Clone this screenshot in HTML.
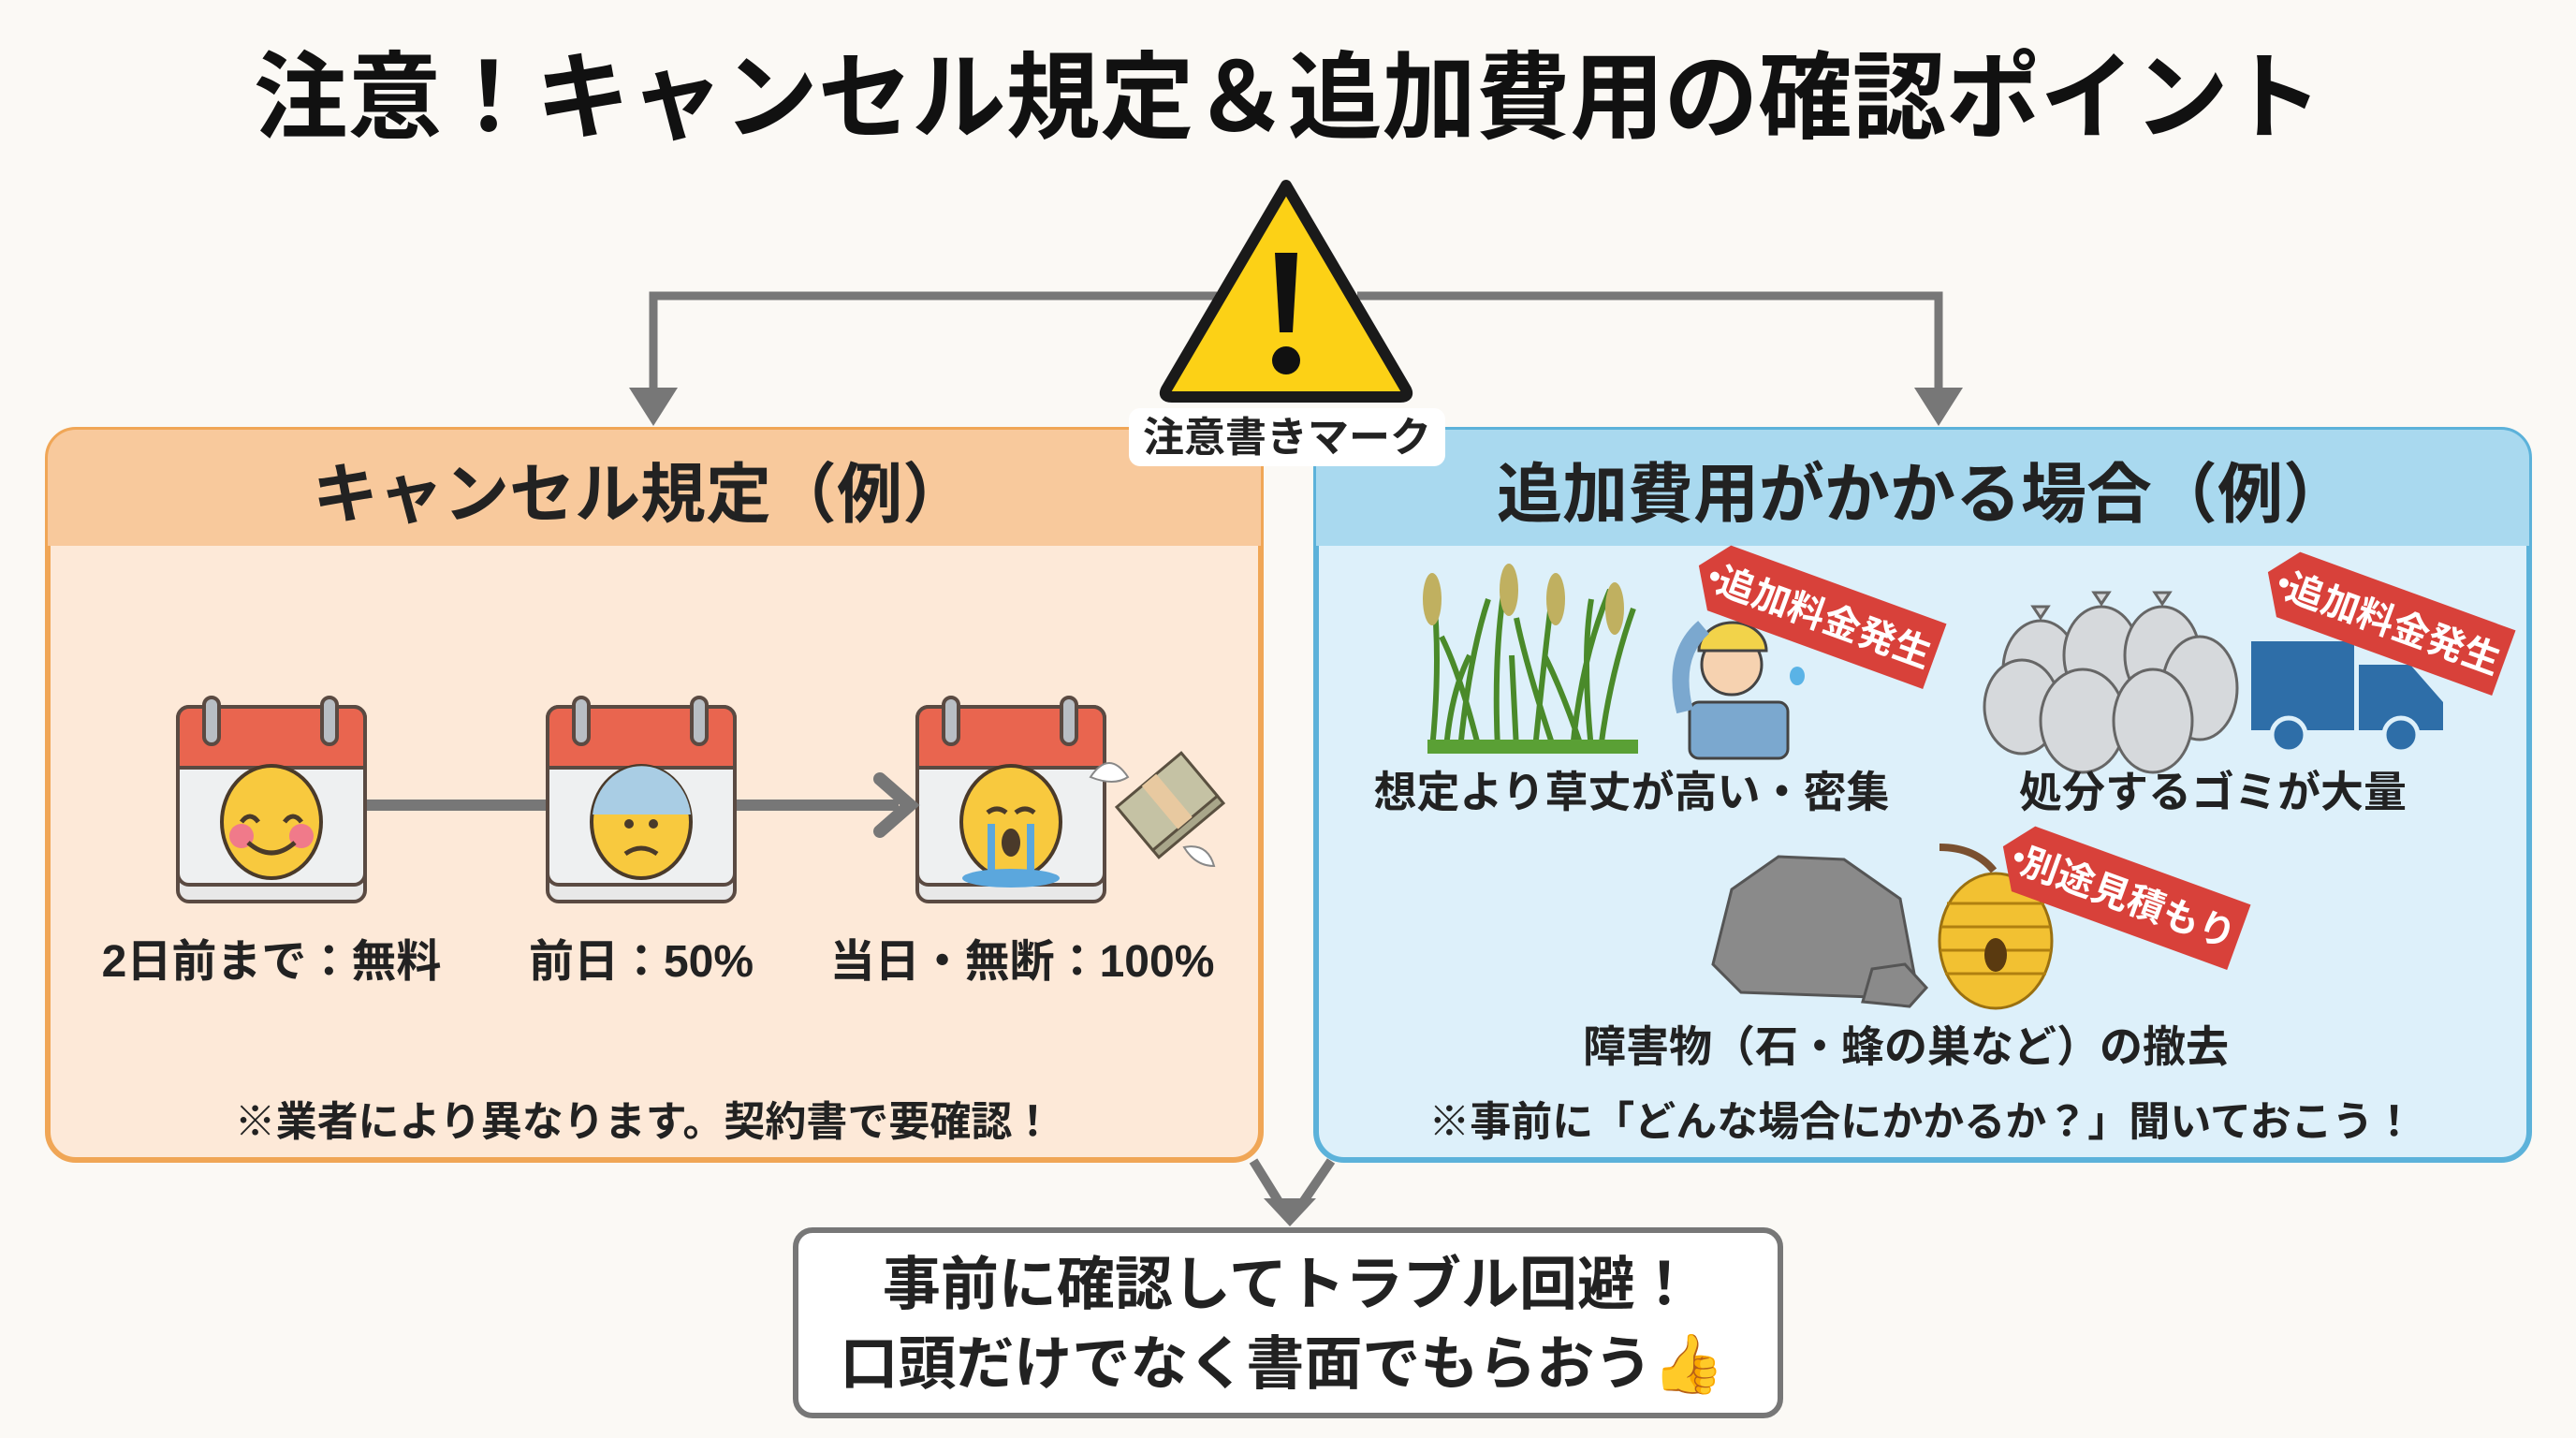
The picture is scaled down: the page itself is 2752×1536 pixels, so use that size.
<!DOCTYPE html>
<html><head><meta charset="utf-8"><style>
html,body{margin:0;padding:0;background:#fbf9f5;}
svg{display:block;}
text{font-family:"Liberation Sans","Noto Sans CJK JP",sans-serif;font-weight:700;}
</style></head><body>
<svg width="2752" height="1536" viewBox="0 0 2752 1536" xmlns="http://www.w3.org/2000/svg">
<rect width="2752" height="1536" fill="#fbf9f5"/>
<text x="1376" y="140" font-size="102" text-anchor="middle" fill="#111" textLength="2210" lengthAdjust="spacingAndGlyphs">注意！キャンセル規定＆追加費用の確認ポイント</text>

<!-- top connectors -->
<path d="M1300 316 H698 V420 M1450 316 H2071 V420" fill="none" stroke="#777" stroke-width="9"/>
<polygon points="672,414 724,414 698,455" fill="#777"/>
<polygon points="2045,414 2097,414 2071,455" fill="#777"/>

<!-- left panel -->
<rect x="51" y="459" width="1296" height="780" rx="30" fill="#fde9d8" stroke="#f0a656" stroke-width="6"/>
<path d="M51 583 V489 a30 30 0 0 1 30 -30 H1317 a30 30 0 0 1 30 30 V583 Z" fill="#f8c99c"/>
<text x="684" y="552" font-size="70" text-anchor="middle" fill="#222">キャンセル規定（例）</text>

<!-- right panel -->
<rect x="1406" y="459" width="1296" height="780" rx="30" fill="#ddf0fa" stroke="#5cb2da" stroke-width="6"/>
<path d="M1406 583 V489 a30 30 0 0 1 30 -30 H2672 a30 30 0 0 1 30 30 V583 Z" fill="#a9d9ef"/>
<text x="2054" y="552" font-size="70" text-anchor="middle" fill="#222">追加費用がかかる場合（例）</text>

<!-- warning sign -->
<path d="M1374 198 L1502 416 Q1506 424 1496 424 H1252 Q1242 424 1246 416 Z" fill="#fcd116" stroke="#1a1a1a" stroke-width="12" stroke-linejoin="round"/>
<path d="M1362 270 H1386 L1381 355 H1367 Z" fill="#111"/>
<circle cx="1374" cy="385" r="15" fill="#111"/>
<rect x="1206" y="436" width="338" height="62" rx="12" fill="#fff"/>
<text x="1375" y="482" font-size="44" text-anchor="middle" fill="#222">注意書きマーク</text>

<!-- calendars -->
<g stroke="#5a4a42" stroke-width="4">
<rect x="190" y="765" width="200" height="198" rx="12" fill="#e8e8e8"/>
<rect x="190" y="755" width="200" height="190" rx="12" fill="#eef0f1"/>
<path d="M190 820 V767 a12 12 0 0 1 12 -12 H378 a12 12 0 0 1 12 12 V820 Z" fill="#e9654f"/>
<rect x="218" y="745" width="16" height="50" rx="8" fill="#b8bec4"/>
<rect x="344" y="745" width="16" height="50" rx="8" fill="#b8bec4"/>

<rect x="585" y="765" width="200" height="198" rx="12" fill="#e8e8e8"/>
<rect x="585" y="755" width="200" height="190" rx="12" fill="#eef0f1"/>
<path d="M585 820 V767 a12 12 0 0 1 12 -12 H773 a12 12 0 0 1 12 12 V820 Z" fill="#e9654f"/>
<rect x="613" y="745" width="16" height="50" rx="8" fill="#b8bec4"/>
<rect x="739" y="745" width="16" height="50" rx="8" fill="#b8bec4"/>

<rect x="980" y="765" width="200" height="198" rx="12" fill="#e8e8e8"/>
<rect x="980" y="755" width="200" height="190" rx="12" fill="#eef0f1"/>
<path d="M980 820 V767 a12 12 0 0 1 12 -12 H1168 a12 12 0 0 1 12 12 V820 Z" fill="#e9654f"/>
<rect x="1008" y="745" width="16" height="50" rx="8" fill="#b8bec4"/>
<rect x="1134" y="745" width="16" height="50" rx="8" fill="#b8bec4"/>
</g>
<line x1="392" y1="860" x2="583" y2="860" stroke="#777" stroke-width="12"/>
<line x1="787" y1="860" x2="960" y2="860" stroke="#777" stroke-width="12"/>
<path d="M940 832 L972 860 L940 888" fill="none" stroke="#777" stroke-width="14" stroke-linecap="round"/>
<g stroke="#4a3a2a" stroke-width="4">
<ellipse cx="290" cy="878" rx="53" ry="60" fill="#f8c93e"/>
<ellipse cx="685" cy="878" rx="53" ry="60" fill="#f8c93e"/>
<path d="M633 870 a53 60 0 0 1 105 0 Z" fill="#a9cde4" stroke="none"/>
<ellipse cx="1080" cy="878" rx="53" ry="60" fill="#f8c93e"/>
</g>
<circle cx="258" cy="893" r="13" fill="#f07a8a"/><circle cx="322" cy="893" r="13" fill="#f07a8a"/>
<path d="M258 878 q9 -12 18 0 M304 878 q9 -12 18 0 M265 900 q25 22 50 0" fill="none" stroke="#4a3a2a" stroke-width="5"/>
<circle cx="672" cy="880" r="5" fill="#4a3a2a"/><circle cx="698" cy="880" r="5" fill="#4a3a2a"/>
<path d="M668 912 q17 -12 34 0" fill="none" stroke="#4a3a2a" stroke-width="5"/>
<path d="M1055 868 q10 -8 20 0 M1085 868 q10 -8 20 0" fill="none" stroke="#4a3a2a" stroke-width="5"/>
<rect x="1055" y="880" width="8" height="55" fill="#5ba7dd"/><rect x="1097" y="880" width="8" height="55" fill="#5ba7dd"/>
<ellipse cx="1080" cy="938" rx="52" ry="10" fill="#5ba7dd"/>
<ellipse cx="1080" cy="900" rx="10" ry="15" fill="#4a3a2a"/>
<g transform="translate(1250 860) rotate(-40)">
<rect x="-45" y="-25" width="90" height="60" fill="#a9a68a" stroke="#5a5040" stroke-width="3"/>
<rect x="-45" y="-35" width="90" height="60" fill="#c5c2a4" stroke="#5a5040" stroke-width="3"/>
<rect x="-10" y="-35" width="20" height="60" fill="#e8c9a0"/>
</g>
<path d="M1165 830 q20 -30 40 0 q-15 10 -40 0Z M1265 905 q25 -5 32 20 q-20 0 -32 -20Z" fill="#fff" stroke="#888" stroke-width="2"/>
<text x="290" y="1043" font-size="48" text-anchor="middle" fill="#222">2日前まで：無料</text>
<text x="685" y="1043" font-size="48" text-anchor="middle" fill="#222">前日：50%</text>
<text x="1092" y="1043" font-size="48" text-anchor="middle" fill="#222">当日・無断：100%</text>
<text x="688" y="1213" font-size="44" text-anchor="middle" fill="#222">※業者により異なります。契約書で要確認！</text>

<!-- grass -->
<g stroke="#4a8a2a" stroke-width="6" fill="none">
<path d="M1530 800 Q1540 700 1530 620 M1560 800 Q1570 700 1590 640 M1600 800 Q1595 690 1610 610 M1640 800 Q1650 700 1660 620 M1680 800 Q1690 700 1720 630 M1710 800 Q1720 720 1745 650 M1580 800 Q1560 720 1540 680 M1660 800 Q1630 710 1620 660 M1700 800 Q1690 700 1700 640 M1620 800 L1615 700 M1545 800 Q1550 740 1570 700 M1690 800 Q1670 740 1650 700"/>
</g>
<rect x="1525" y="790" width="225" height="15" fill="#5aa035"/>
<g fill="#c0b060"><ellipse cx="1530" cy="640" rx="10" ry="28"/><ellipse cx="1612" cy="630" rx="10" ry="28"/><ellipse cx="1662" cy="640" rx="10" ry="28"/><ellipse cx="1725" cy="650" rx="10" ry="28"/></g>
<!-- worker -->
<rect x="1805" y="750" width="105" height="60" rx="10" fill="#7ba8cf" stroke="#444" stroke-width="3"/>
<circle cx="1850" cy="710" r="32" fill="#f6d2b0" stroke="#444" stroke-width="3"/>
<path d="M1815 695 a36 30 0 0 1 72 0 Z" fill="#f2d34a" stroke="#444" stroke-width="3"/>
<path d="M1800 760 Q1785 700 1820 670" stroke="#7ba8cf" stroke-width="18" fill="none"/>
<ellipse cx="1920" cy="722" rx="8" ry="10" fill="#5ab3e6"/>
<g transform="translate(1940 655) rotate(20)">
<path d="M-135 -5 L-110 -37 H135 V37 H-110 Z" fill="#d8413a"/>
<circle cx="-115" cy="0" r="5" fill="#fff"/>
<text x="10" y="15" font-size="40" text-anchor="middle" fill="#fff">追加料金発生</text>
</g>
<!-- bags -->
<g fill="#d6d9dc" stroke="#666" stroke-width="3">
<path d="M2180 660 l-8 -12 h16 z"/><path d="M2245 645 l-8 -12 h16 z"/><path d="M2310 645 l-8 -12 h16 z"/>
<ellipse cx="2180" cy="715" rx="40" ry="52"/><ellipse cx="2245" cy="700" rx="40" ry="52"/><ellipse cx="2310" cy="700" rx="40" ry="52"/><ellipse cx="2350" cy="735" rx="40" ry="55"/>
<ellipse cx="2160" cy="755" rx="40" ry="50"/><ellipse cx="2225" cy="770" rx="45" ry="55"/><ellipse cx="2300" cy="770" rx="42" ry="55"/>
</g>
<rect x="2405" y="685" width="110" height="95" fill="#2e6ea8"/>
<path d="M2520 710 H2575 L2610 750 V780 H2520 Z" fill="#2e6ea8"/>
<circle cx="2445" cy="785" r="18" fill="#2e6ea8" stroke="#ddf0fa" stroke-width="5"/>
<circle cx="2565" cy="785" r="18" fill="#2e6ea8" stroke="#ddf0fa" stroke-width="5"/>
<g transform="translate(2548 662) rotate(20)">
<path d="M-135 -5 L-110 -37 H135 V37 H-110 Z" fill="#d8413a"/>
<circle cx="-115" cy="0" r="5" fill="#fff"/>
<text x="10" y="15" font-size="40" text-anchor="middle" fill="#fff">追加料金発生</text>
</g>
<text x="1743" y="862" font-size="46" text-anchor="middle" fill="#222">想定より草丈が高い・密集</text>
<text x="2364" y="862" font-size="46" text-anchor="middle" fill="#222">処分するゴミが大量</text>
<!-- rock -->
<path d="M1830 1030 L1850 950 L1900 915 L1970 918 L2030 960 L2045 1040 L2000 1065 L1860 1060 Z" fill="#8a8a8a" stroke="#555" stroke-width="3"/>
<path d="M1990 1070 L2000 1035 L2035 1030 L2058 1055 L2040 1075 Z" fill="#8a8a8a" stroke="#555" stroke-width="3"/>
<!-- hive -->
<path d="M2072 905 Q2110 905 2130 930" stroke="#7a5030" stroke-width="8" fill="none"/>
<ellipse cx="2132" cy="1005" rx="60" ry="72" fill="#f2c132" stroke="#9a7010" stroke-width="3"/>
<g stroke="#b08010" stroke-width="3" fill="none"><path d="M2080 965 h104 M2074 990 h116 M2073 1015 h118 M2078 1040 h108"/></g>
<ellipse cx="2132" cy="1020" rx="12" ry="18" fill="#5a3a10"/>
<g transform="translate(2265 955) rotate(20)">
<path d="M-135 -5 L-110 -37 H135 V37 H-110 Z" fill="#d8413a"/>
<circle cx="-115" cy="0" r="5" fill="#fff"/>
<text x="10" y="15" font-size="40" text-anchor="middle" fill="#fff">別途見積もり</text>
</g>
<text x="2036" y="1134" font-size="46" text-anchor="middle" fill="#222">障害物（石・蜂の巣など）の撤去</text>
<text x="2053" y="1213" font-size="44" text-anchor="middle" fill="#222">※事前に「どんな場合にかかるか？」聞いておこう！</text>

<path d="M1339 1240 L1370 1290 M1422 1240 L1388 1290" stroke="#777" stroke-width="10" fill="none"/>
<polygon points="1350,1280 1406,1280 1378,1310" fill="#777"/>

<rect x="850" y="1314" width="1052" height="198" rx="18" fill="#fff" stroke="#777" stroke-width="6"/>
<text x="1376" y="1393" font-size="62" text-anchor="middle" fill="#222">事前に確認してトラブル回避！</text>
<text x="1370" y="1478" font-size="62" text-anchor="middle" fill="#222">口頭だけでなく書面でもらおう<tspan fill="#f2b630">👍</tspan></text>
</svg>
</body></html>
